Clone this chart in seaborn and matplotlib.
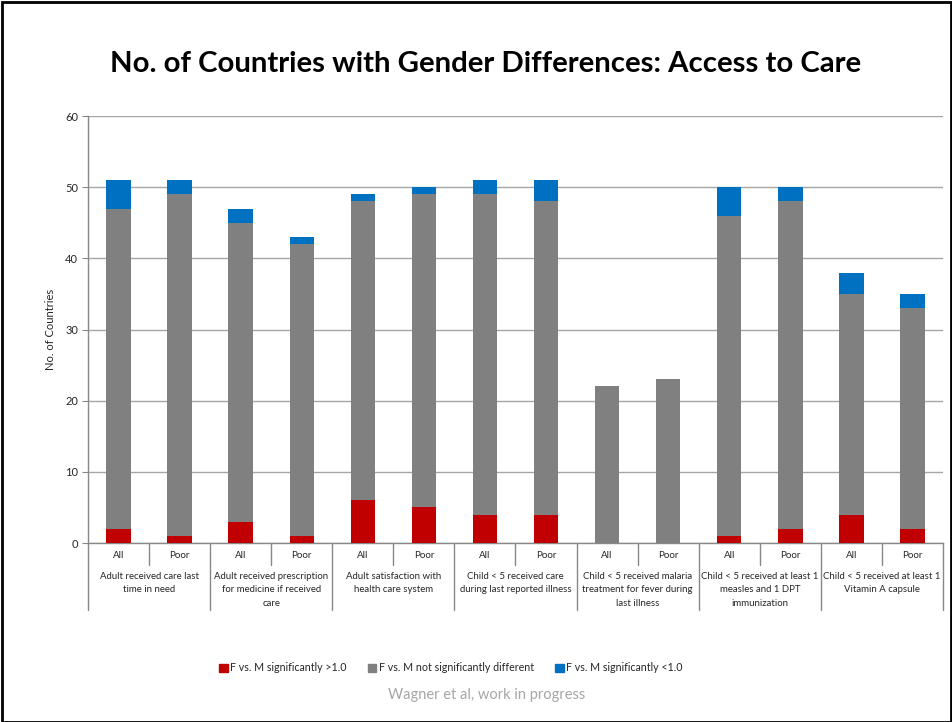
import matplotlib
matplotlib.use("Agg")
import matplotlib.pyplot as plt
import matplotlib.transforms as mtransforms
from matplotlib.patches import Rectangle
import seaborn as sns
import pandas as pd

groups = [
    "Adult received care last\ntime in need",
    "Adult received prescription\nfor medicine if received\ncare",
    "Adult satisfaction with\nhealth care system",
    "Child < 5 received care\nduring last reported illness",
    "Child < 5 received malaria\ntreatment for fever during\nlast illness",
    "Child < 5 received at least 1\nmeasles and 1 DPT\nimmunization",
    "Child < 5 received at least 1\nVitamin A capsule",
]
subgroups = ["All", "Poor"]

sig_greater = [2, 1, 3, 1, 6, 5, 4, 4, 0, 0, 1, 2, 4, 2]
not_sig = [45, 48, 42, 41, 42, 44, 45, 44, 22, 23, 45, 46, 31, 31]
sig_less = [4, 2, 2, 1, 1, 1, 2, 3, 0, 0, 4, 2, 3, 2]

series_names = ["F vs. M significantly >1.0",
                "F vs. M not significantly different",
                "F vs. M significantly <1.0"]
colors = ["#C00000", "#808080", "#0070C0"]

sns.set_style("white")
plt.rcParams["font.family"] = ["Lato", "DejaVu Sans"]

slots = [f"{g}|{s}" for g in range(len(groups)) for s in subgroups]
df = pd.DataFrame({"slot": slots, "red": sig_greater, "gray": not_sig, "blue": sig_less})
df["c_red"] = df["red"]
df["c_gray"] = df["red"] + df["gray"]
df["c_blue"] = df["c_gray"] + df["blue"]

fig = plt.figure(figsize=(9.53, 7.22), dpi=100)
ax = fig.add_axes([0.0923, 0.2479, 0.8972, 0.5914])

for col, c in [("c_blue", colors[2]), ("c_gray", colors[1]), ("c_red", colors[0])]:
    sns.barplot(data=df, x="slot", y=col, order=slots, color=c, width=0.4,
                saturation=1, ax=ax, zorder=3, edgecolor="none", linewidth=0)

ax.set_ylim(0, 60)
ax.set_xlim(-0.5, len(slots) - 0.5)
ax.set_yticks(range(0, 61, 10))
ax.tick_params(axis="y", labelsize=8, length=4, color="#888888", pad=3, left=True)
ax.set_xticks([])
ax.set_xlabel("")
ax.set_ylabel("No. of Countries", fontsize=8)
ax.yaxis.set_label_coords(-0.037, 0.5)
ax.grid(axis="y", color="#A6A6A6", linewidth=1, zorder=0)
ax.set_axisbelow(True)
for s in ["top", "right"]:
    ax.spines[s].set_visible(False)
for s in ["left", "bottom"]:
    ax.spines[s].set_color("#888888")
    ax.spines[s].set_linewidth(1)

trans = mtransforms.blended_transform_factory(ax.transData, ax.transAxes)
for i, s in enumerate(slots):
    ax.text(i, -0.030, s.split("|")[1], transform=trans, ha="center", va="center", fontsize=7)
for gi, g in enumerate(groups):
    ax.text(2 * gi + 0.5, -0.068, g, transform=trans, ha="center", va="top",
            fontsize=6.9, linespacing=1.63)
for k in range(len(groups) + 1):
    ax.plot([2 * k - 0.5] * 2, [0, -0.157], transform=trans, color="#888888", lw=1, clip_on=False)
for k in range(len(groups)):
    ax.plot([2 * k + 0.5] * 2, [0, -0.0515], transform=trans, color="#888888", lw=1, clip_on=False)

fig.text(0.51, 0.911, "No. of Countries with Gender Differences: Access to Care",
         ha="center", va="center", fontsize=21.2, fontweight="bold", color="black")

handles = [Rectangle((0, 0), 1, 1, color=c) for c in colors]
fig.legend(handles, series_names, loc="center", bbox_to_anchor=(0.473, 0.075), ncol=3,
           frameon=False, fontsize=7.7, handlelength=0.8, handleheight=0.8,
           handletextpad=0.2, columnspacing=2.0)

fig.text(0.511, 0.037, "Wagner et al, work in progress", ha="center", va="center",
         fontsize=10.5, color="#A6A6A6")

fig.patches.append(Rectangle((0.002, 0.0), 0.996, 0.997, transform=fig.transFigure,
                             fill=False, edgecolor="black", linewidth=2))

fig.savefig("out.png", dpi=100)
